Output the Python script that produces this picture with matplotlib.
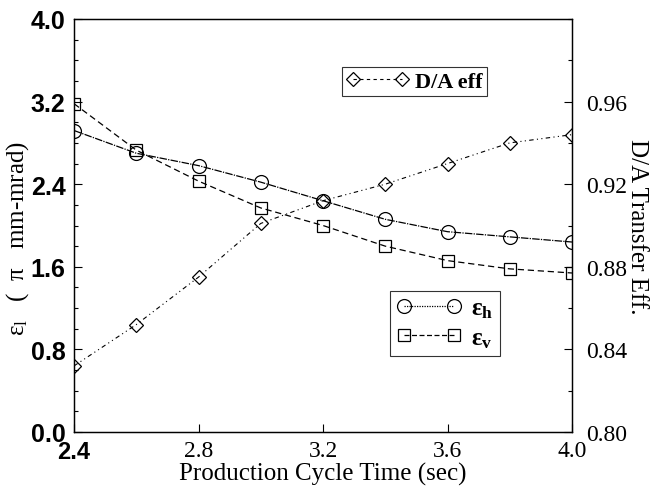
import matplotlib
matplotlib.use("Agg")
import matplotlib.pyplot as plt
from matplotlib.ticker import MultipleLocator, FixedLocator
from matplotlib.lines import Line2D

cycle_time = [2.4, 2.6, 2.8, 3.0, 3.2, 3.4, 3.6, 3.8, 4.0]
eps_h = [2.92, 2.70, 2.58, 2.42, 2.24, 2.06, 1.94, 1.89, 1.84]
eps_v = [3.18, 2.73, 2.43, 2.17, 2.00, 1.80, 1.66, 1.58, 1.54]
da_eff = [0.832, 0.852, 0.875, 0.901, 0.912, 0.920, 0.930, 0.940, 0.944]

left_ticks = [0.0, 0.8, 1.6, 2.4, 3.2, 4.0]
right_ticks = [0.80, 0.84, 0.88, 0.92, 0.96]
x_ticks = [2.4, 2.8, 3.2, 3.6, 4.0]

serif = "Liberation Serif"
sans = "Liberation Sans"
plt.rcParams["mathtext.fontset"] = "custom"
plt.rcParams["mathtext.rm"] = serif
plt.rcParams["mathtext.it"] = serif + ":italic"
plt.rcParams["mathtext.bf"] = serif + ":bold"

fig = plt.figure(figsize=(6.51, 4.89), dpi=100)
L, R, T, B = 74, 572, 20, 433
ax = fig.add_axes([L/651, 1-B/489, (R-L)/651, (B-T)/489])
ax2 = ax.twinx()

def ax_frac(px, py):
    return ((px - L) / (R - L), (B - py) / (B - T))

ax.plot(cycle_time, eps_h, color="black", lw=0.9, ls=(0, (6, 1, 1, 1)),
        marker="o", ms=10, mfc="none", mec="black", mew=0.9)
ax.plot(cycle_time, eps_v, color="black", lw=0.9, ls=(0, (5, 3)),
        marker="s", ms=9, mfc="none", mec="black", mew=0.9)
ax2.plot(cycle_time, da_eff, color="black", lw=0.8, ls=(0, (4, 3, 1, 3, 1, 3)),
         marker="D", ms=7.5, mfc="none", mec="black", mew=0.9)

ax.set_xlim(2.4, 4.0)
ax.set_ylim(0.0, 4.0)
ax2.set_ylim(0.80, 1.00)

ax.xaxis.set_major_locator(FixedLocator(x_ticks))
ax.yaxis.set_major_locator(FixedLocator(left_ticks))
ax.yaxis.set_minor_locator(MultipleLocator(0.2))
ax2.yaxis.set_major_locator(FixedLocator(right_ticks))
ax2.yaxis.set_minor_locator(MultipleLocator(0.02))

ax.tick_params(axis="both", which="major", direction="in", length=6, width=0.8)
ax.tick_params(axis="y", which="minor", direction="in", length=3, width=0.8)
ax.tick_params(axis="x", which="major", pad=6)
ax.tick_params(axis="y", which="major", pad=6)
ax2.tick_params(axis="y", which="major", direction="in", length=6, width=0.8, pad=10)
ax2.tick_params(axis="y", which="minor", direction="in", length=3, width=0.8)

ax.set_yticklabels(["0.0", "0.8", "1.6", "2.4", "3.2", "4.0"],
                   fontfamily=sans, fontweight="bold", fontsize=18)
ax.set_xticklabels(["2.4", "2.8", "3.2", "3.6", "4.0"], fontfamily=serif, fontsize=17)
xl = ax.get_xticklabels()
xl[0].set_fontfamily(sans)
xl[0].set_fontweight("bold")
ax2.set_yticklabels(["0.80", "0.84", "0.88", "0.92", "0.96"], fontfamily=serif, fontsize=17)

ax.set_xlabel("Production Cycle Time (sec)", fontfamily=serif, fontsize=18, labelpad=-1)
ax.set_ylabel(r"$\mathregular{\epsilon_l}$   (  $\mathregular{\pi}$   mm-mrad)",
              fontfamily=serif, fontsize=18, labelpad=0)
ax.yaxis.set_label_coords(-0.086, 0.47)
ax2.set_ylabel("D/A Transfer Eff.", fontfamily=serif, fontsize=18, rotation=270, labelpad=22)
ax2.yaxis.set_label_coords(1.153, 0.50)

for a in (ax, ax2):
    for s in a.spines.values():
        s.set_linewidth(0.9)

h_da = Line2D([], [], color="black", lw=0.8, ls=(0, (3, 3)), marker="D", ms=7.5,
              mfc="none", mec="black", mew=0.9)
leg1 = ax.legend([h_da], ["D/A eff"], loc="upper left",
                 bbox_to_anchor=ax_frac(342, 68), bbox_transform=ax.transAxes,
                 numpoints=2, frameon=True, fancybox=False, edgecolor="black",
                 handlelength=2.8, borderpad=0.2, handletextpad=0.3, borderaxespad=0,
                 prop={"family": serif, "weight": "bold", "size": 16})
leg1.get_frame().set_linewidth(0.8)
ax.add_artist(leg1)

h_h = Line2D([], [], color="black", lw=0.9, ls=(0, (1, 1)), marker="o", ms=10,
             mfc="none", mec="black", mew=0.9)
h_v = Line2D([], [], color="black", lw=0.9, ls=(0, (4, 2)), marker="s", ms=9,
             mfc="none", mec="black", mew=0.9)
leg2 = ax.legend([h_h, h_v], [r"$\mathbf{\epsilon_h}$", r"$\mathbf{\epsilon_v}$"],
                 loc="upper left", bbox_to_anchor=ax_frac(390, 292),
                 bbox_transform=ax.transAxes, numpoints=2, frameon=True, fancybox=False,
                 edgecolor="black", handlelength=2.6, borderpad=0.25, handletextpad=0.4,
                 borderaxespad=0, labelspacing=0.25, prop={"family": serif, "size": 18})
leg2.get_frame().set_linewidth(0.8)

fig.savefig("out.png", dpi=100)
